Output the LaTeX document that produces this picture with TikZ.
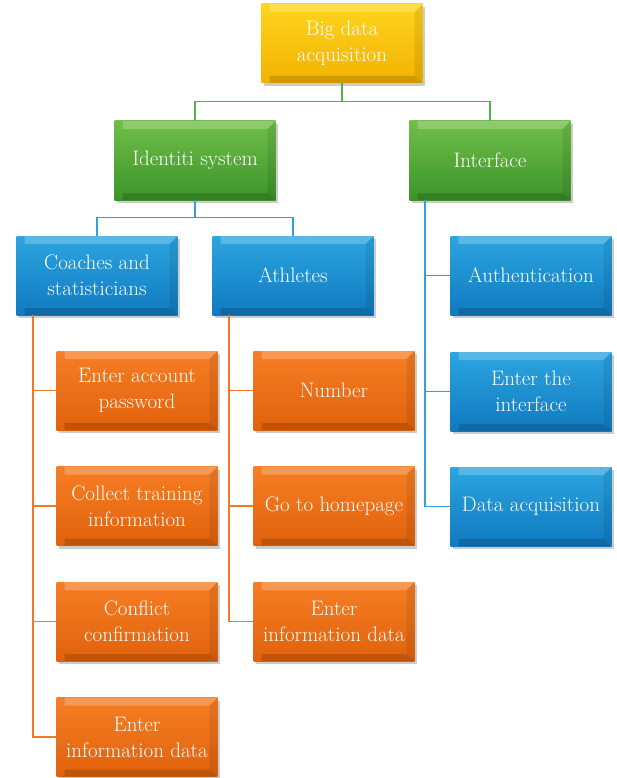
\documentclass[tikz,border=0pt]{standalone}
\usepackage{fontspec}
\usepackage{tikz}
\usetikzlibrary{shadows}
\usetikzlibrary{positioning}

\definecolor{goldtop}{RGB}{255,212,30}
\definecolor{goldbot}{RGB}{242,178,0}
\definecolor{greentop}{RGB}{112,190,72}
\definecolor{greenbot}{RGB}{60,148,42}
\definecolor{bluetop}{RGB}{44,165,224}
\definecolor{bluebot}{RGB}{16,122,192}
\definecolor{orangetop}{RGB}{246,126,36}
\definecolor{orangebot}{RGB}{224,98,12}
\definecolor{greenline}{RGB}{80,180,70}
\definecolor{blueline}{RGB}{50,160,220}
\definecolor{orangeline}{RGB}{240,120,40}

\tikzset{
  box/.style={rectangle, minimum width=161pt, minimum height=79pt, inner sep=0pt,
    text=white, align=center, font=\fontsize{21}{26}\selectfont,
    drop shadow={shadow xshift=2pt, shadow yshift=-3pt, opacity=0.4},
    path picture={
      \fill[white,opacity=0.22] (path picture bounding box.north west) -- (path picture bounding box.north east)
        -- ++(-8pt,-8pt) -| ([xshift=8pt]path picture bounding box.north west) -- cycle;
      \fill[black,opacity=0.15] (path picture bounding box.south west) -- (path picture bounding box.south east)
        -- ++(-8pt,7pt) -| ([xshift=8pt]path picture bounding box.south west) -- cycle;
      \fill[black,opacity=0.08] (path picture bounding box.north east) -- (path picture bounding box.south east)
        -- ++(-8pt,7pt) -- ([shift={(-8pt,-8pt)}]path picture bounding box.north east) -- cycle;
    }},
  goldbox/.style={box, top color=goldtop, bottom color=goldbot},
  greenbox/.style={box, top color=greentop, bottom color=greenbot},
  bluebox/.style={box, top color=bluetop, bottom color=bluebot},
  orangebox/.style={box, top color=orangetop, bottom color=orangebot},
  link/.style={line width=1.1pt}
}

\begin{document}
\begin{tikzpicture}[x=1pt,y=-1pt]
\useasboundingbox (0,0) rectangle (616,778);

% bus start points
\coordinate (ib) at (425,200);
\coordinate (cb) at (33,315);
\coordinate (ab) at (229,315);

\node[goldbox] (big) at (342,43.5) {Big data\\acquisition};

\node[greenbox] (ident) at (195,160.5) {Identiti system};
\node[greenbox] (iface) at (490,160.5) {Interface};

\node[bluebox] (coach) at (97,275.5) {Coaches and\\statisticians};
\node[bluebox] (ath) at (293,275.5) {Athletes};

\node[bluebox] (auth) at (531,275.5) {Authentication};
\node[bluebox] (enter) at (531,391.5) {Enter the\\interface};
\node[bluebox] (acq) at (531,506.5) {Data acquisition};

\node[orangebox] (c1) at (137,390.5) {Enter account\\password};
\node[orangebox] (c2) at (137,506) {Collect training\\information};
\node[orangebox] (c3) at (137,621.5) {Conflict\\confirmation};
\node[orangebox] (c4) at (137,737) {Enter\\information data};

\node[orangebox] (a1) at (334,390.5) {Number};
\node[orangebox] (a2) at (334,506) {Go to homepage};
\node[orangebox] (a3) at (334,621.5) {Enter\\information data};

\draw[link,greenline] (big.south) -- ++(0,18) -| (ident.north);
\draw[link,greenline] (big.south) -- ++(0,18) -| (iface.north);
\draw[link,blueline] (ident.south) -- ++(0,17) -| (coach.north);
\draw[link,blueline] (ident.south) -- ++(0,17) -| (ath.north);

\draw[link,blueline] (ib) |- (acq.west);
\foreach \n in {auth,enter}
  \draw[link,blueline] (ib) |- (\n.west);

\draw[link,orangeline] (cb) |- (c4.west);
\foreach \n in {c1,c2,c3}
  \draw[link,orangeline] (cb) |- (\n.west);

\draw[link,orangeline] (ab) |- (a3.west);
\foreach \n in {a1,a2}
  \draw[link,orangeline] (ab) |- (\n.west);

\end{tikzpicture}
\end{document}
